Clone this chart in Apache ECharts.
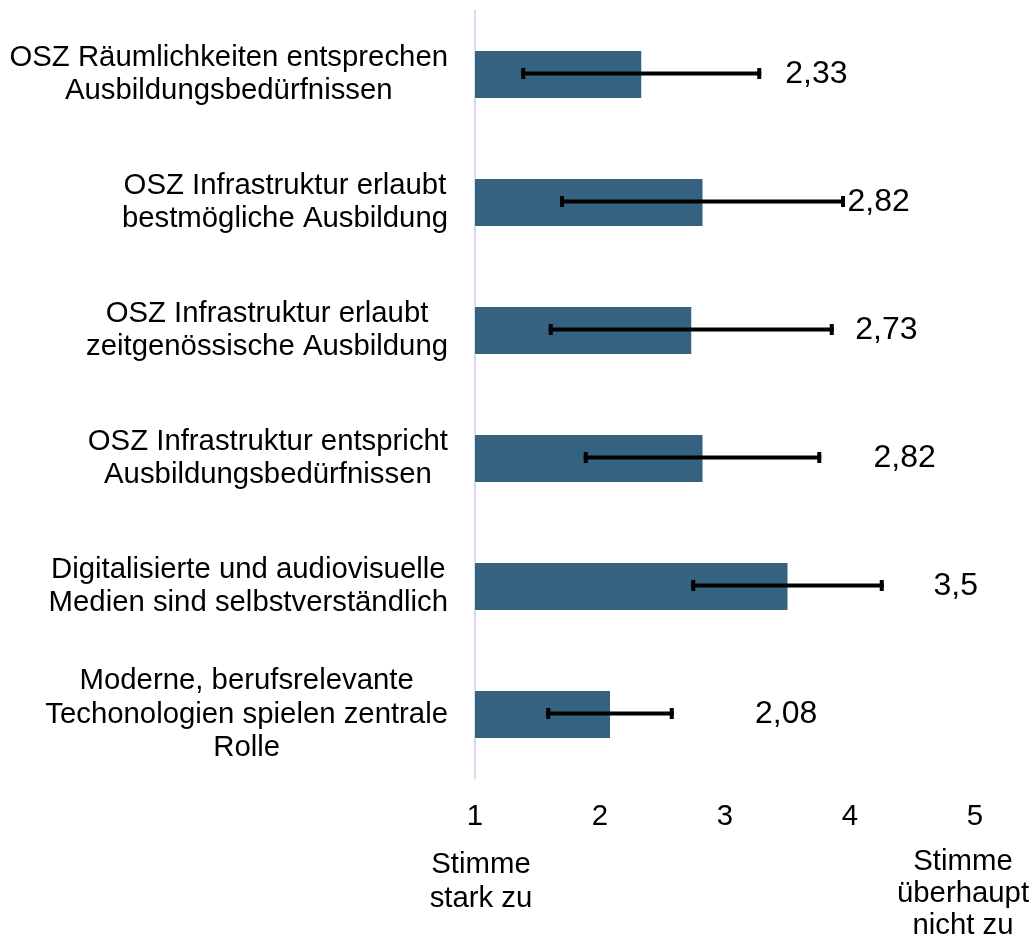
<!DOCTYPE html>
<html>
<head>
<meta charset="utf-8">
<script src="https://cdn.jsdelivr.net/npm/echarts@6/dist/echarts.min.js"></script>
<style>
  html, body { margin: 0; padding: 0; background: #fff; }
  #chart { width: 1030px; height: 942px; }
</style>
</head>
<body>
<div id="chart"></div>
<script>
// Kategorien (von oben nach unten)
const categories = [
  'OSZ Räumlichkeiten entsprechen\nAusbildungsbedürfnissen',
  'OSZ Infrastruktur erlaubt\nbestmögliche Ausbildung',
  'OSZ Infrastruktur erlaubt\nzeitgenössische Ausbildung',
  'OSZ Infrastruktur entspricht\nAusbildungsbedürfnissen',
  'Digitalisierte und audiovisuelle\nMedien sind selbstverständlich',
  'Moderne, berufsrelevante\nTechonologien spielen zentrale\nRolle'
]
// Mittelwerte
const means = [2.33, 2.82, 2.73, 2.82, 3.5, 2.08]
// Fehlerbalken (+/-)
const errors = [0.96, 1.14, 1.14, 0.95, 0.77, 0.51]
// Achse
const xTicks = [1, 2, 3, 4, 5]

const FONT = 'Liberation Sans, Arial, sans-serif'

// Abstand der Werte-Labels hinter dem Balkenende (wie im Original verschoben)
const labelGap = [139, 140, 159, 166, 141, 140]

const chart = echarts.init(document.querySelector('#chart'))
const option = {
  animation: false,
  grid: {
    left: 475,
    right: 55,
    top: 10.5,
    height: 768
  },
  xAxis: {
    type: 'value',
    min: xTicks[0],
    max: xTicks[xTicks.length - 1],
    interval: 1,
    axisLine: { show: false },
    axisTick: { show: false },
    splitLine: { show: false },
    axisLabel: {
      margin: 24,
      color: '#000',
      fontFamily: FONT,
      fontSize: 29.33
    }
  },
  yAxis: {
    type: 'category',
    inverse: true,
    data: categories,
    axisLine: {
      show: true,
      lineStyle: { color: '#d9daf0', width: 2 }
    },
    axisTick: { show: false },
    splitLine: { show: false },
    axisLabel: {
      margin: 27,
      formatter: (val) => val.split('\n').map(s => '{c|' + s + '}').join('\n'),
      rich: {
        c: {
          align: 'center',
          color: '#000',
          fontFamily: FONT,
          fontSize: 29.33,
          lineHeight: 33.5
        }
      }
    }
  },
  series: [
    {
      type: 'bar',
      clip: true,
      barWidth: 47,
      itemStyle: { color: '#356280' },
      data: means.map((v, i) => ({
        value: v,
        label: {
          show: true,
          position: 'right',
          offset: [labelGap[i], 0],
          formatter: () => String(v).replace('.', ','),
          color: '#000',
          fontFamily: FONT,
          fontSize: 32
        }
      }))
    },
    {
      type: 'custom',
      z: 10,
      data: means.map((v, i) => [v - errors[i], v + errors[i], i]),
      renderItem: (params, api) => {
        const lo = api.coord([api.value(0), api.value(2)])
        const hi = api.coord([api.value(1), api.value(2)])
        const y = lo[1] - 1
        const capH = 11
        return {
          type: 'group',
          children: [
            {
              type: 'line',
              shape: { x1: lo[0], y1: y, x2: hi[0], y2: y },
              style: { stroke: '#000', lineWidth: 4 }
            },
            {
              type: 'rect',
              shape: { x: lo[0], y: y - capH / 2, width: 4, height: capH },
              style: { fill: '#000' }
            },
            {
              type: 'rect',
              shape: { x: hi[0] - 4, y: y - capH / 2, width: 4, height: capH },
              style: { fill: '#000' }
            }
          ]
        }
      }
    }
  ],
  graphic: [
    {
      type: 'text',
      left: null,
      x: 481,
      y: 882,
      style: {
        text: 'Stimme\nstark zu',
        align: 'center',
        verticalAlign: 'middle',
        fill: '#000',
        font: '29.33px ' + FONT,
        lineHeight: 34
      }
    },
    {
      type: 'text',
      x: 963,
      y: 894,
      style: {
        text: 'Stimme\nüberhaupt\nnicht zu',
        align: 'center',
        verticalAlign: 'middle',
        fill: '#000',
        font: '29.33px ' + FONT,
        lineHeight: 32
      }
    }
  ]
}
chart.setOption(option)
</script>
</body>
</html>
